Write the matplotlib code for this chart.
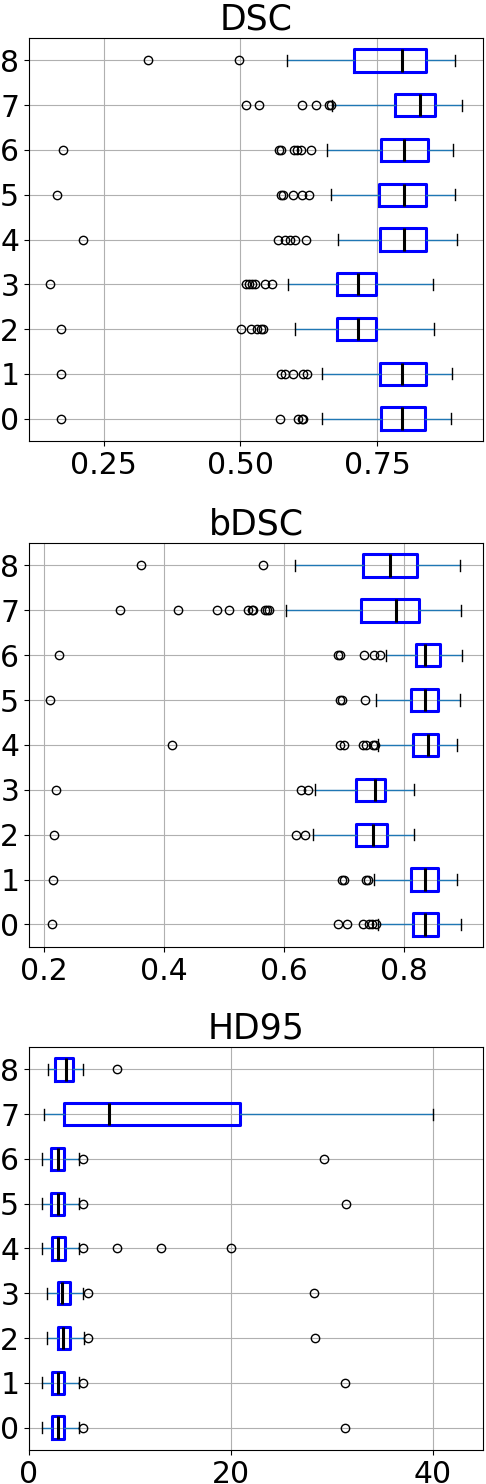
"""Horizontal boxplots of DSC, bDSC and HD95 per class (0-8)."""

import matplotlib
matplotlib.use("Agg")
import matplotlib.pyplot as plt

classes = [0, 1, 2, 3, 4, 5, 6, 7, 8]

# ---- DSC ----
dsc_q1 = [0.757, 0.755, 0.676, 0.676, 0.755, 0.754, 0.757, 0.782, 0.708]
dsc_med = [0.796, 0.796, 0.715, 0.715, 0.799, 0.799, 0.799, 0.828, 0.796]
dsc_q3 = [0.838, 0.840, 0.749, 0.749, 0.840, 0.840, 0.843, 0.856, 0.840]
dsc_lo = [0.649, 0.650, 0.600, 0.588, 0.678, 0.666, 0.659, 0.667, 0.586]
dsc_hi = [0.885, 0.888, 0.854, 0.853, 0.897, 0.893, 0.889, 0.906, 0.893]
dsc_fliers = [
    [0.172, 0.572, 0.605, 0.612, 0.615],
    [0.171, 0.575, 0.581, 0.596, 0.614, 0.622],
    [0.171, 0.502, 0.520, 0.530, 0.537, 0.541],
    [0.151, 0.511, 0.516, 0.522, 0.526, 0.545, 0.557],
    [0.212, 0.569, 0.582, 0.590, 0.600, 0.620],
    [0.165, 0.575, 0.578, 0.596, 0.612, 0.625],
    [0.176, 0.571, 0.574, 0.598, 0.604, 0.610, 0.630],
    [0.510, 0.534, 0.612, 0.638, 0.663, 0.666],
    [0.331, 0.498],
]

# ---- bDSC ----
bdsc_q1 = [0.816, 0.813, 0.720, 0.721, 0.816, 0.813, 0.821, 0.729, 0.732]
bdsc_med = [0.836, 0.836, 0.749, 0.752, 0.840, 0.836, 0.836, 0.787, 0.778]
bdsc_q3 = [0.857, 0.857, 0.773, 0.769, 0.858, 0.857, 0.861, 0.826, 0.823]
bdsc_lo = [0.758, 0.751, 0.648, 0.652, 0.757, 0.754, 0.771, 0.603, 0.619]
bdsc_hi = [0.895, 0.889, 0.817, 0.818, 0.889, 0.894, 0.898, 0.896, 0.894]
bdsc_fliers = [
    [0.213, 0.690, 0.705, 0.733, 0.742, 0.748, 0.754],
    [0.215, 0.697, 0.701, 0.738, 0.740],
    [0.217, 0.621, 0.636],
    [0.219, 0.628, 0.641],
    [0.413, 0.693, 0.701, 0.733, 0.738, 0.749, 0.753],
    [0.209, 0.694, 0.697, 0.736],
    [0.225, 0.690, 0.693, 0.734, 0.750, 0.760],
    [0.326, 0.423, 0.488, 0.508, 0.541, 0.547, 0.549, 0.569, 0.572, 0.576],
    [0.361, 0.566],
]

# ---- HD95 ----
hd_q1 = [2.25, 2.25, 2.85, 2.85, 2.25, 2.19, 2.19, 3.51, 2.62]
hd_med = [2.91, 2.85, 3.34, 3.25, 2.91, 2.91, 2.85, 7.88, 3.68]
hd_q3 = [3.51, 3.51, 4.07, 4.07, 3.61, 3.51, 3.51, 20.9, 4.40]
hd_lo = [1.26, 1.26, 1.79, 1.79, 1.26, 1.26, 1.26, 1.46, 1.92]
hd_hi = [4.93, 4.93, 5.43, 5.40, 4.93, 5.00, 5.00, 40.0, 5.40]
hd_fliers = [
    [5.40, 31.3],
    [5.40, 31.3],
    [5.89, 28.4],
    [5.83, 28.3],
    [5.40, 8.71, 13.08, 20.0],
    [5.40, 31.4],
    [5.40, 29.2],
    [],
    [8.71],
]

panels = [
    ("DSC", dsc_q1, dsc_med, dsc_q3, dsc_lo, dsc_hi, dsc_fliers, None, [0.25, 0.50, 0.75]),
    ("bDSC", bdsc_q1, bdsc_med, bdsc_q3, bdsc_lo, bdsc_hi, bdsc_fliers, None, [0.2, 0.4, 0.6, 0.8]),
    ("HD95", hd_q1, hd_med, hd_q3, hd_lo, hd_hi, hd_fliers, (0, 45), [0, 20, 40]),
]

rects = [
    [0.0597, 0.7028, 0.934, 0.2716],
    [0.0597, 0.3619, 0.934, 0.2722],
    [0.0597, 0.0229, 0.934, 0.2716],
]

fig = plt.figure(figsize=(4.86, 14.84), dpi=100)

for rect, (title, q1, med, q3, lo, hi, fl, xlim, xticks) in zip(rects, panels):
    ax = fig.add_axes(rect)
    stats = []
    for i, c in enumerate(classes):
        stats.append(dict(label=str(c), q1=q1[i], med=med[i], q3=q3[i],
                          whislo=lo[i], whishi=hi[i], fliers=fl[i]))
    ax.bxp(stats, positions=classes, vert=False, widths=0.5,
           boxprops=dict(color="blue", linewidth=2.2),
           medianprops=dict(color="black", linewidth=2.2),
           whiskerprops=dict(color="#1f77b4", linewidth=1.0),
           capprops=dict(color="black", linewidth=1.0),
           flierprops=dict(marker="o", markerfacecolor="none",
                           markeredgecolor="black", markersize=6))
    ax.set_title(title, fontsize=25)
    ax.grid(True, color="#b0b0b0", linewidth=0.8)
    ax.set_axisbelow(True)
    ax.set_xticks(xticks)
    if xlim is not None:
        ax.set_xlim(*xlim)
    ax.set_ylim(-0.5, 8.5)
    ax.tick_params(labelsize=21.5)

fig.savefig("out.png", dpi=100)
